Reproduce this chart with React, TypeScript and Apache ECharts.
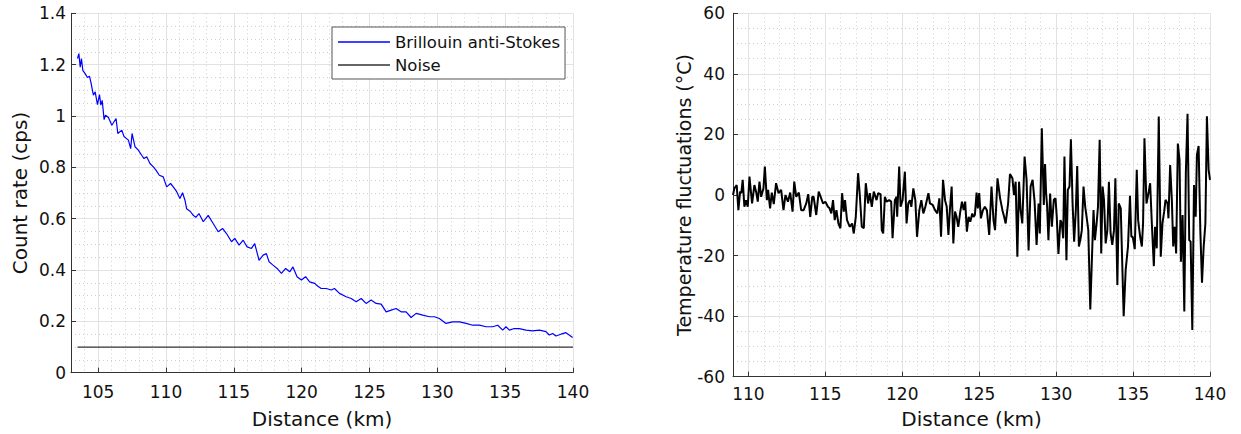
import React, { useEffect, useRef } from "react";
import * as echarts from "echarts";

// Left panel: Brillouin anti-Stokes count rate (cps) vs distance (km)
const brillouinKm = [
  103.48, 103.58, 103.68, 103.77, 103.87, 104.04, 104.21, 104.36, 104.46, 104.65,
  104.78, 104.95, 105.1, 105.2, 105.3, 105.44, 105.54, 105.76, 106.01, 106.32,
  106.45, 106.74, 106.91, 107.23, 107.4, 107.5, 107.72, 107.96, 108.21, 108.38,
  108.58, 108.82, 109.07, 109.26, 109.51, 109.8, 110.05, 110.34, 110.54, 110.79,
  111.03, 111.22, 111.4, 111.52, 111.8, 112.01, 112.2, 112.43, 112.75, 113.11,
  113.48, 113.85, 114.17, 114.46, 114.83, 115.07, 115.39, 115.69, 115.98, 116.3,
  116.54, 116.86, 117.16, 117.4, 117.6, 117.89, 118.19, 118.51, 118.82, 119.12,
  119.36, 119.66, 119.98, 120.29, 120.59, 120.96, 121.2, 121.44, 121.81, 122.18,
  122.42, 122.79, 123.28, 123.65, 124.02, 124.39, 124.75, 125.12, 125.49, 125.86,
  126.23, 126.6, 126.96, 127.33, 127.7, 128.07, 128.44, 128.93, 129.42, 129.79,
  130.15, 130.64, 131.13, 131.63, 132.12, 132.61, 133.1, 133.59, 134.08, 134.45,
  134.82, 135.06, 135.31, 135.67, 136.04, 136.53, 137.02, 137.52, 138.01, 138.25,
  138.5, 138.74, 139.11, 139.48, 139.72, 139.97,
];
const brillouinRate = [
  1.224, 1.243, 1.19, 1.224, 1.178, 1.165, 1.15, 1.155, 1.133, 1.081,
  1.094, 1.044, 1.083, 1.042, 1.061, 0.986, 1.003, 0.994, 0.964, 0.99,
  0.932, 0.945, 0.92, 0.906, 0.873, 0.932, 0.88, 0.867, 0.847, 0.834,
  0.841, 0.815, 0.802, 0.789, 0.769, 0.763, 0.724, 0.737, 0.724, 0.705,
  0.679, 0.701, 0.672, 0.639, 0.628, 0.613, 0.605, 0.62, 0.588, 0.613,
  0.581, 0.549, 0.562, 0.542, 0.51, 0.523, 0.497, 0.516, 0.49, 0.484,
  0.503, 0.438, 0.458, 0.464, 0.432, 0.419, 0.406, 0.387, 0.406, 0.393,
  0.412, 0.374, 0.361, 0.374, 0.354, 0.348, 0.337, 0.328, 0.328, 0.322,
  0.328, 0.309, 0.296, 0.289, 0.276, 0.289, 0.27, 0.283, 0.27, 0.267,
  0.237, 0.244, 0.25, 0.237, 0.237, 0.215, 0.231, 0.224, 0.218, 0.218,
  0.211, 0.192, 0.198, 0.198, 0.192, 0.185, 0.185, 0.179, 0.179, 0.185,
  0.166, 0.179, 0.166, 0.172, 0.172, 0.166, 0.163, 0.166, 0.16, 0.147,
  0.153, 0.143, 0.15, 0.156, 0.147, 0.137,
];
const noiseKm = [103.48, 140];
const noiseRate = [0.1, 0.1];

// Right panel: temperature fluctuations (°C) vs distance (km)
const tempKm = [
  109.0, 109.09, 109.24, 109.35, 109.46, 109.54, 109.63, 109.74, 109.85, 109.96,
  110.07, 110.24, 110.39, 110.5, 110.61, 110.72, 110.83, 110.98, 111.07, 111.2,
  111.28, 111.41, 111.52, 111.65, 111.8, 111.96, 112.13, 112.28, 112.41, 112.57,
  112.72, 112.87, 112.98, 113.11, 113.28, 113.43, 113.59, 113.76, 113.89, 114.02,
  114.15, 114.24, 114.41, 114.57, 114.7, 114.85, 115.0, 115.17, 115.28, 115.39,
  115.5, 115.61, 115.72, 115.85, 115.98, 116.09, 116.2, 116.28, 116.41, 116.59,
  116.74, 116.85, 116.98, 117.13, 117.24, 117.37, 117.5, 117.63, 117.78, 117.89,
  118.02, 118.15, 118.33, 118.43, 118.59, 118.67, 118.76, 118.87, 118.98, 119.15,
  119.28, 119.37, 119.52, 119.63, 119.67, 119.8, 119.89, 120.02, 120.17, 120.28,
  120.39, 120.5, 120.59, 120.72, 120.85, 120.96, 121.11, 121.24, 121.37, 121.5,
  121.7, 121.8, 121.98, 122.13, 122.28, 122.41, 122.52, 122.65, 122.78, 122.89,
  123.0, 123.1, 123.21, 123.32, 123.43, 123.53, 123.64, 123.77, 123.88, 123.99,
  124.09, 124.2, 124.31, 124.42, 124.55, 124.63, 124.72, 124.83, 124.91, 125.0,
  125.11, 125.24, 125.37, 125.5, 125.65, 125.8, 125.93, 126.03, 126.19, 126.36,
  126.51, 126.62, 126.72, 126.88, 127.0, 127.16, 127.26, 127.37, 127.48, 127.59,
  127.69, 127.8, 127.95, 128.08, 128.21, 128.34, 128.47, 128.6, 128.73, 128.86,
  128.94, 129.07, 129.2, 129.28, 129.35, 129.41, 129.5, 129.61, 129.72, 129.85,
  129.96, 130.04, 130.15, 130.28, 130.37, 130.46, 130.54, 130.67, 130.76, 130.87,
  130.96, 131.07, 131.17, 131.28, 131.37, 131.48, 131.59, 131.67, 131.78, 131.89,
  131.98, 132.09, 132.22, 132.33, 132.43, 132.52, 132.63, 132.72, 132.83, 132.93,
  133.02, 133.11, 133.22, 133.33, 133.43, 133.54, 133.65, 133.76, 133.85, 133.98,
  134.07, 134.2, 134.39, 134.52, 134.67, 134.8, 134.89, 134.98, 135.11, 135.24,
  135.33, 135.46, 135.57, 135.65, 135.74, 135.87, 136.02, 136.11, 136.22, 136.35,
  136.43, 136.54, 136.67, 136.8, 136.91, 137.02, 137.11, 137.24, 137.3, 137.41,
  137.52, 137.61, 137.7, 137.8, 137.91, 138.02, 138.11, 138.22, 138.33, 138.43,
  138.54, 138.65, 138.74, 138.85, 138.96, 139.07, 139.15, 139.26, 139.37, 139.48,
  139.59, 139.7, 139.8, 139.91, 140.0,
];
const tempFluct = [
  0, 2.2, 3.3, -5, 1.1, 0.6, 5, -3.9, -1.7, -3.9,
  6.1, -2.8, 3.3, 1.1, -2.2, 4.4, -0.6, 2.2, 9.4, -1.7,
  1.7, -4.4, 0.8, -3, 3.9, 0.6, 1.7, -5, 0, -2.2,
  0.8, -5.5, 4.4, -0.6, 0.8, -5, -5, -2.8, 0.3, -7.2,
  -0.6, -0.6, -6.6, 1.1, -0.6, -2.8, -2.2, -3.9, -4.4, -6.1,
  -1.7, -8.3, -5, -9.4, -11, 0.6, -5.5, -1.7, -8.3, -10.5,
  -9.4, -12.7, -7.2, 7.2, 0, -10.5, -11, 3.9, -2.8, 0.6,
  -3.9, 1.1, -1.7, 0.6, 0.3, -11.6, -12.7, -0.6, -2.2, -1.7,
  -2.2, -14.3, -1.7, -0.6, -7.2, 9.4, -3.9, -1.7, 7.7, -9.4,
  -2.8, -1.7, -3.9, 2.2, -1.7, -13.8, -5, -1.7, -6.1, -3.9,
  0.6, -2.8, -3.3, -5, -6.1, -1.1, -13.8, 5, -1.7, -3.9,
  -13.2, -4.6, 2.8, -16, -5.5, -7.2, -10.5, -5.5, -2.2, -5,
  -2.2, -12.1, -7.2, -8.8, -6.1, -7.2, -6.6, 0.8, -4.4, 0.6,
  -7.7, -5, -3.9, -5, -13.2, 2.8, -8.3, -11.6, 5.5, -1.1,
  -5, -7.2, -9.4, -2.8, 6.9, 5.5, 0, 4.4, -20.4, 4.4,
  -5, -9.4, 12.7, 5, -18.3, 2.8, 5, -2.2, -16.5, -2.8,
  -12.7, 22, -3.3, 10.2, 0.5, -3.3, -14.9, 0.5, -10.5, -1.6,
  -1.1, -7.2, -19.5, -8.3, -9.4, -14.3, 12.7, -21.5, 1.7, 2.8,
  18.4, -2.8, -15.4, -5, 9.6, -17, -14.3, -11.6, 2.8, -3.9,
  -7.2, -11.6, -37.8, -20.4, -5, -14.9, -9.4, -3.9, 18.2, -19.3,
  2.8, -1.6, -16, -11.6, 4.4, -12.7, -16.5, -11.6, 5.5, -29.7,
  -2.8, -4.4, -40, -24.7, -17, -0.3, -13.8, -13.8, -17.9, 8.3,
  -8.3, -13.8, -17, -9.4, 18.7, -2.8, 1.1, 3.9, -9.4, -23.5,
  -10.5, -17.6, 25.9, -20.4, -9.4, -5.5, -1.6, -2.8, -7.7, 9.9,
  -1.6, -17, -10.5, -19.3, 17, 11.6, -22, -6.6, -38.5, 7.2,
  26.8, -14.9, -15.4, -44.6, 3.3, -7.2, 13.2, 16.2, -11.6, -29,
  -17, -9.4, 26, 8.3, 5,
];

const FONT = "DejaVu Sans";
const TEXT = "#111";
const AXIS = "#333";

function pairs(xs: number[], ys: number[]) {
  return xs.map((x, i) => [x, ys[i]]);
}

function xAxisCfg(gridIndex: number, min: number, splitNumber: number, margin: number, nameGap: number) {
  return {
    type: "value",
    gridIndex,
    min,
    max: 140,
    splitNumber,
    name: "Distance (km)",
    nameLocation: "middle",
    nameGap,
    nameTextStyle: { fontFamily: FONT, fontSize: 20, color: TEXT },
    axisLine: { show: true, onZero: false, lineStyle: { color: AXIS, width: 1 } },
    axisTick: { show: true, inside: true, length: 5, lineStyle: { color: AXIS } },
    axisLabel: { fontFamily: FONT, fontSize: 17, color: TEXT, margin, showMinLabel: false },
    splitLine: { show: true, lineStyle: { color: "#e2e2e2", width: 1 } },
    minorTick: { show: false, splitNumber: 5 },
    minorSplitLine: { show: true, lineStyle: { color: "#cfcfcf", width: 1, type: [1, 3] } },
  };
}

export default function App() {
  const ref = useRef<HTMLDivElement>(null);
  useEffect(() => {
    if (!ref.current) return;
    const chart = echarts.init(ref.current, undefined, { renderer: "svg" });
    const option: any = {
      animation: false,
      backgroundColor: "#ffffff",
      grid: [
        { left: 71, top: 13.3, width: 502, height: 359.4, outerBoundsMode: "none" },
        { left: 733, top: 13.3, width: 477, height: 363.4, outerBoundsMode: "none" },
      ],
      legend: {
        data: [
          { name: "Brillouin anti-Stokes", icon: "rect" },
          { name: "Noise", icon: "rect" },
        ],
        orient: "vertical",
        left: 332,
        top: 27,
        padding: [5, 5, 4, 6],
        itemGap: 3,
        itemWidth: 52,
        itemHeight: 1.3,
        backgroundColor: "#ffffff",
        borderColor: "#555",
        borderWidth: 1,
        borderRadius: 0,
        textStyle: { fontFamily: FONT, fontSize: 16.5, color: TEXT, lineHeight: 20 },
      },
      xAxis: [xAxisCfg(0, 103, 7, 11, 36), xAxisCfg(1, 109, 6, 8.5, 32)],
      yAxis: [
        {
          type: "value",
          gridIndex: 0,
          min: 0,
          max: 1.4,
          interval: 0.2,
          name: "Count rate (cps)",
          nameLocation: "middle",
          nameGap: 41,
          nameTextStyle: { fontFamily: FONT, fontSize: 20, color: TEXT },
          axisLine: { show: true, lineStyle: { color: AXIS, width: 1 } },
          axisTick: { show: true, inside: true, length: 5, lineStyle: { color: AXIS } },
          axisLabel: { fontFamily: FONT, fontSize: 17, color: TEXT, margin: 5 },
          splitLine: { show: true, lineStyle: { color: "#e2e2e2", width: 1 } },
          minorTick: { show: false, splitNumber: 4 },
          minorSplitLine: { show: true, lineStyle: { color: "#cfcfcf", width: 1, type: [1, 3] } },
        },
        {
          type: "value",
          gridIndex: 1,
          min: -60,
          max: 60,
          interval: 20,
          name: "Temperature fluctuations (°C)",
          nameLocation: "middle",
          nameGap: 39,
          nameTextStyle: { fontFamily: FONT, fontSize: 19, color: TEXT },
          axisLine: { show: true, onZero: false, lineStyle: { color: AXIS, width: 1 } },
          axisTick: { show: true, inside: true, length: 5, lineStyle: { color: AXIS } },
          axisLabel: { fontFamily: FONT, fontSize: 17, color: TEXT, margin: 8 },
          splitLine: { show: true, lineStyle: { color: "#e2e2e2", width: 1 } },
          minorTick: { show: false, splitNumber: 4 },
          minorSplitLine: { show: true, lineStyle: { color: "#cfcfcf", width: 1, type: [1, 3] } },
        },
      ],
      series: [
        {
          name: "Brillouin anti-Stokes",
          type: "line",
          xAxisIndex: 0,
          yAxisIndex: 0,
          data: pairs(brillouinKm, brillouinRate),
          symbol: "none",
          lineStyle: { color: "#0000ff", width: 1.2 },
          itemStyle: { color: "#0000ff" },
        },
        {
          name: "Noise",
          type: "line",
          xAxisIndex: 0,
          yAxisIndex: 0,
          data: pairs(noiseKm, noiseRate),
          symbol: "none",
          lineStyle: { color: "#333333", width: 1.2 },
          itemStyle: { color: "#333333" },
        },
        {
          name: "Temperature fluctuations",
          type: "line",
          xAxisIndex: 1,
          yAxisIndex: 1,
          data: pairs(tempKm, tempFluct),
          symbol: "none",
          lineStyle: { color: "#000000", width: 2 },
          itemStyle: { color: "#000000" },
        },
      ],
    };
    chart.setOption(option);
    return () => chart.dispose();
  }, []);
  return (
    <div
      ref={ref}
      style={{ position: "fixed", left: 0, top: 0, width: 1241, height: 434, background: "#fff" }}
    />
  );
}
